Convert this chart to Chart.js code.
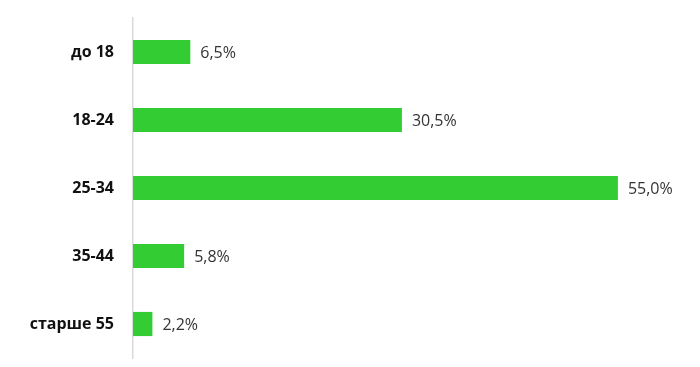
<!DOCTYPE html>
<html>
<head>
<meta charset="utf-8">
<script src="https://cdn.jsdelivr.net/npm/chart.js@4/dist/chart.umd.min.js"></script>
<style>
  html, body { margin: 0; padding: 0; background: #fff; }
  #wrap { width: 700px; height: 367px; }
</style>
</head>
<body>
<div id="wrap"><canvas id="ageChart" width="700" height="367"></canvas></div>
<script>
const categories = ['до 18', '18-24', '25-34', '35-44', 'старше 55'];
const shares = [6.5, 30.5, 55.0, 5.8, 2.2];

// value labels to the right of each bar, with a decimal comma
const valueLabels = {
  id: 'valueLabels',
  afterDatasetsDraw(chart) {
    const ctx = chart.ctx;
    const meta = chart.getDatasetMeta(0);
    ctx.save();
    ctx.font = '16px "Open Sans"';
    ctx.fillStyle = '#333';
    ctx.textBaseline = 'middle';
    ctx.textAlign = 'left';
    meta.data.forEach((bar, i) => {
      const txt = shares[i].toFixed(1).replace('.', ',') + '%';
      ctx.fillText(txt, bar.x + 10, bar.y + 1);
    });
    ctx.restore();
  }
};

new Chart(document.getElementById('ageChart'), {
  type: 'bar',
  data: {
    labels: categories,
    datasets: [{
      data: shares,
      backgroundColor: 'rgb(51, 204, 51)',
      borderWidth: 0,
      categoryPercentage: 1,
      barPercentage: 0.355
    }]
  },
  options: {
    indexAxis: 'y',
    responsive: false,
    animation: false,
    layout: { padding: { top: 18, bottom: 9, left: 0, right: 38 } },
    scales: {
      x: {
        display: false,
        min: 0,
        max: 60
      },
      y: {
        afterFit(scale) {
          scale.width = 133;
          // tick padding would otherwise push the plot area in vertically
          scale.paddingTop = 0;
          scale.paddingBottom = 0;
        },
        grid: { display: false },
        border: { display: true, color: '#d9d9d9', width: 1.5 },
        ticks: {
          padding: 11,
          color: '#111',
          font: { family: '"Open Sans"', size: 16, weight: 'bold' }
        }
      }
    },
    plugins: {
      legend: { display: false },
      tooltip: { enabled: false }
    }
  },
  plugins: [valueLabels]
});
</script>
</body>
</html>
